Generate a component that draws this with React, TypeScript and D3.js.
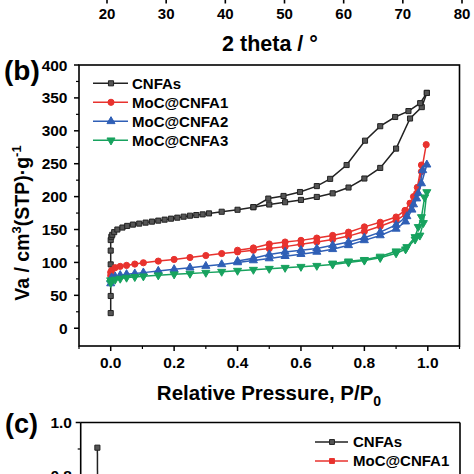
import React from "react";
import * as d3 from "d3";

// ---- Panel (a) remnant: x axis ticks ----
const thetaTicks = [20, 30, 40, 50, 60, 70, 80];

// ---- Panel (b) data: N2 isotherms ----
const seriesNames = ["CNFAs", "MoC@CNFA1", "MoC@CNFA2", "MoC@CNFA3"];
const seriesColors = ["#222222", "#e8322e", "#2f5fb6", "#17a25e"];

const cnfaAdsP = [0, 0, 0, 0, 0, 0.002, 0.005, 0.011, 0.021, 0.037, 0.052, 0.07, 0.09, 0.11, 0.13, 0.15, 0.17, 0.19, 0.21, 0.23, 0.25, 0.27, 0.29, 0.31, 0.35, 0.4, 0.45, 0.5, 0.55, 0.6, 0.65, 0.7, 0.75, 0.8, 0.85, 0.9, 0.944, 0.981, 0.997];
const cnfaAdsV = [23, 49, 97, 118, 134, 139, 142, 146, 150, 153, 155.5, 157.5, 159, 160.5, 162, 163.5, 165, 166.5, 168, 169.5, 171, 172, 173, 174.5, 177, 180, 184, 188, 191.5, 195, 199.5, 205, 213.8, 227.5, 243.6, 273, 318.7, 336, 357.6];
const cnfaDesP = [0.997, 0.976, 0.939, 0.897, 0.85, 0.802, 0.744, 0.692, 0.65, 0.597, 0.545, 0.497, 0.45];
const cnfaDesV = [357.6, 342, 330, 321, 307, 285, 248, 227, 216, 207, 201, 197, 184];

const moc1AdsP = [0, 0, 0.003, 0.014, 0.03, 0.05, 0.076, 0.103, 0.15, 0.2, 0.25, 0.3, 0.35, 0.4, 0.45, 0.5, 0.55, 0.6, 0.65, 0.7, 0.75, 0.8, 0.85, 0.9, 0.93, 0.95, 0.965, 0.98, 0.995];
const moc1AdsV = [80, 85, 88, 92, 94, 95.5, 97.5, 99.5, 102, 104.5, 107.5, 110.5, 113.5, 116, 118.5, 121, 124, 127.5, 131, 135, 140, 147, 155, 164, 173, 188, 205, 238, 279];
const moc1DesP = [0.98, 0.967, 0.955, 0.944, 0.928, 0.9, 0.85, 0.8, 0.75, 0.7, 0.65, 0.6, 0.55, 0.5, 0.45, 0.4];
const moc1DesV = [248, 214, 200, 190, 179, 169, 161, 154, 146, 141, 137, 133.5, 131, 128, 122, 118.5];

const moc2AdsP = [0, 0, 0.003, 0.014, 0.03, 0.05, 0.076, 0.103, 0.15, 0.2, 0.25, 0.3, 0.35, 0.4, 0.45, 0.5, 0.55, 0.6, 0.65, 0.7, 0.75, 0.8, 0.85, 0.9, 0.93, 0.95, 0.965, 0.98, 0.997];
const moc2AdsV = [68, 74, 77, 78.5, 80.5, 82, 83, 84.5, 87, 89.5, 92, 94.5, 97, 100, 103, 106, 109.5, 112.6, 116, 120, 126, 133.5, 141, 151, 162, 180, 197, 220, 248.5];
const moc2DesP = [0.984, 0.97, 0.955, 0.934, 0.9, 0.85, 0.8, 0.75, 0.7, 0.65, 0.6, 0.55, 0.5, 0.45, 0.4];
const moc2DesV = [240, 205, 188, 170, 157, 146, 137.6, 131, 126, 121, 118.5, 116, 112, 106.5, 102];

const moc3AdsP = [0, 0, 0.003, 0.014, 0.03, 0.05, 0.076, 0.103, 0.15, 0.2, 0.25, 0.3, 0.35, 0.4, 0.45, 0.5, 0.55, 0.6, 0.65, 0.7, 0.75, 0.8, 0.85, 0.9, 0.93, 0.96, 0.975, 0.986, 0.997];
const moc3AdsV = [69, 73, 72, 74, 75.5, 77, 78, 79, 80.5, 82, 83, 84.5, 86, 87.5, 89, 90.5, 92, 93.5, 95, 97, 100, 103, 107, 114, 120, 135, 141, 160, 207];
const moc3DesP = [0.99, 0.98, 0.97, 0.96, 0.934, 0.9, 0.85, 0.8, 0.75, 0.7];
const moc3DesV = [199, 169, 154, 138.7, 123.5, 117, 109, 104, 101.7, 98.5];

const bYTicks = [0, 50, 100, 150, 200, 250, 300, 350, 400];
const bYMinor = [25, 75, 125, 175, 225, 275, 325, 375];
const bXTicks = [0, 0.2, 0.4, 0.6, 0.8, 1.0];
const bXMinor = [-0.1, 0.1, 0.3, 0.5, 0.7, 0.9, 1.1];

// ---- Panel (c) remnant ----
const cLegendNames = ["CNFAs", "MoC@CNFA1"];
const cLegendColors = ["#222222", "#e8322e"];
const cPore = [2.2, 2.25];
const cDv = [0.905, 0.5];
const cYTicks = [1.0, 0.8];
const cYMinor = [0.9];

const FONT = "'Liberation Sans', Arial, Helvetica, sans-serif";

const zip = (p: number[], v: number[]) => p.map((x, i) => [x, v[i]] as [number, number]);

const symbols = [d3.symbolSquare, d3.symbolCircle, d3.symbolTriangle, d3.symbolTriangle];
const symRot = [0, 0, 0, 180];
const symSize = [26, 30, 28, 28];

function Marker({ x, y, k }: { x: number; y: number; k: number }) {
  const path = d3.symbol().type(symbols[k]).size(symSize[k])() as string;
  const c = seriesColors[k];
  const fill = k === 0 ? "#555" : c;
  return (
    <path
      d={path}
      transform={`translate(${x},${y}) rotate(${symRot[k]})`}
      fill={fill}
      stroke={c}
      strokeWidth={1}
    />
  );
}

export default function App() {
  const W = 474;
  const H = 474;

  // panel a axis
  const xa = d3.scaleLinear().domain([20, 80]).range([107, 462]);

  // panel b
  const xb = d3.scaleLinear().domain([-0.1, 1.1]).range([79, 459.5]);
  const yb = d3.scaleLinear().domain([-27, 400]).range([346, 65]);
  const line = d3
    .line<[number, number]>()
    .x((d) => xb(d[0]))
    .y((d) => yb(d[1]));

  const series = [
    [zip(cnfaAdsP, cnfaAdsV), zip(cnfaDesP, cnfaDesV)],
    [zip(moc1AdsP, moc1AdsV), zip(moc1DesP, moc1DesV)],
    [zip(moc2AdsP, moc2AdsV), zip(moc2DesP, moc2DesV)],
    [zip(moc3AdsP, moc3AdsV), zip(moc3DesP, moc3DesV)],
  ];

  // panel c
  const xc = d3.scaleLinear().domain([0, 50]).range([80.7, 460]);
  const yc = d3.scaleLinear().domain([0, 1.0]).range([687.5, 422.5]);
  const lineC = d3
    .line<[number, number]>()
    .x((d) => xc(d[0]))
    .y((d) => yc(d[1]));

  const L = xb.range()[0];
  const R = xb.range()[1];
  const T = yb.range()[1];
  const B = yb.range()[0];

  return (
    <svg
      width={W}
      height={H}
      viewBox={`0 0 ${W} ${H}`}
      style={{ position: "absolute", left: 0, top: 0, background: "#fff" }}
      fontFamily={FONT}
      fontWeight="bold"
    >
      <rect x={0} y={0} width={W} height={H} fill="#fff" />
      {/* ===== Panel (a) bottom axis remnant ===== */}
      {thetaTicks.map((t) => (
        <g key={"a" + t}>
          <line x1={xa(t)} x2={xa(t)} y1={-2} y2={3.5} stroke="#000" strokeWidth={1.6} />
          <text x={xa(t)} y={18.5} fontSize={15} textAnchor="middle">
            {t}
          </text>
        </g>
      ))}
      <text x={270} y={51} fontSize={21.5} textAnchor="middle">
        2 theta / °
      </text>

      {/* ===== Panel (b) ===== */}
      <text x={4} y={80} fontSize={28}>
        (b)
      </text>
      <clipPath id="clipb">
        <rect x={L} y={T} width={R - L} height={B - T} />
      </clipPath>
      <g clipPath="url(#clipb)">
        {series.map((branches, k) =>
          branches.map((pts, j) => (
            <g key={`s${k}-${j}`}>
              <path d={line(pts) as string} fill="none" stroke={seriesColors[k]} strokeWidth={1.5} />
              {pts.map((d, i) => (
                <Marker key={i} x={xb(d[0])} y={yb(d[1])} k={k} />
              ))}
            </g>
          ))
        )}
      </g>
      {/* frame */}
      <rect x={L} y={T} width={R - L} height={B - T} fill="none" stroke="#000" strokeWidth={1.6} />
      {/* y ticks */}
      {bYTicks.map((t) => (
        <g key={"by" + t}>
          <line x1={L - 5} x2={L} y1={yb(t)} y2={yb(t)} stroke="#000" strokeWidth={1.5} />
          <text x={67.5} y={yb(t)} dy="0.36em" fontSize={15.5} textAnchor="end">
            {t}
          </text>
        </g>
      ))}
      {bYMinor.map((t) => (
        <line key={"bym" + t} x1={L - 3} x2={L} y1={yb(t)} y2={yb(t)} stroke="#000" strokeWidth={1.2} />
      ))}
      {/* x ticks */}
      {bXTicks.map((t) => (
        <g key={"bx" + t}>
          <line x1={xb(t)} x2={xb(t)} y1={B} y2={B + 5} stroke="#000" strokeWidth={1.5} />
          <text x={xb(t)} y={368} fontSize={15.5} textAnchor="middle">
            {d3.format(".1f")(t)}
          </text>
        </g>
      ))}
      {bXMinor.map((t) => (
        <line key={"bxm" + t} x1={xb(t)} x2={xb(t)} y1={B} y2={B + 3} stroke="#000" strokeWidth={1.2} />
      ))}
      {/* axis titles */}
      <text x={269} y={400} fontSize={20.5} textAnchor="middle">
        Relative Pressure, P/P
        <tspan fontSize={14} dy={6}>
          0
        </tspan>
      </text>
      <text
        transform={`translate(29,${223}) rotate(-90)`}
        fontSize={19.5}
        textAnchor="middle"
      >
        Va / cm
        <tspan fontSize={13} dy={-8}>
          3
        </tspan>
        <tspan dy={8}>(STP)·g</tspan>
        <tspan fontSize={13} dy={-8}>
          -1
        </tspan>
      </text>
      {/* legend b */}
      {seriesNames.map((n, k) => {
        const y = 83.3 + k * 19;
        return (
          <g key={"lb" + n}>
            <line x1={93} x2={128} y1={y} y2={y} stroke={seriesColors[k]} strokeWidth={1.6} />
            <Marker x={111} y={y} k={k} />
            <text x={132} y={y} dy="0.36em" fontSize={15}>
              {n}
            </text>
          </g>
        );
      })}

      {/* ===== Panel (c) remnant ===== */}
      <text x={5} y={433} fontSize={27}>
        (c)
      </text>
      <g>
        <line x1={xc.range()[0]} x2={xc.range()[1]} y1={422.5} y2={422.5} stroke="#000" strokeWidth={1.6} />
        <line x1={xc.range()[0]} x2={xc.range()[0]} y1={422.5} y2={H + 5} stroke="#000" strokeWidth={1.6} />
        <line x1={xc.range()[1]} x2={xc.range()[1]} y1={422.5} y2={H + 5} stroke="#000" strokeWidth={1.6} />
        {cYTicks.map((t) => (
          <g key={"cy" + t}>
            <line x1={xc.range()[0] - 5} x2={xc.range()[0]} y1={yc(t)} y2={yc(t)} stroke="#000" strokeWidth={1.5} />
            <text x={72} y={yc(t)} dy="0.36em" fontSize={15.5} textAnchor="end">
              {d3.format(".1f")(t)}
            </text>
          </g>
        ))}
        {cYMinor.map((t) => (
          <line key={"cym" + t} x1={xc.range()[0] - 3} x2={xc.range()[0]} y1={yc(t)} y2={yc(t)} stroke="#000" strokeWidth={1.2} />
        ))}
        <path d={lineC(zip(cPore, cDv)) as string} fill="none" stroke="#222" strokeWidth={1.5} />
        <Marker x={xc(cPore[0])} y={yc(cDv[0])} k={0} />
        {cLegendNames.map((n, k) => {
          const y = 442 + k * 19;
          return (
            <g key={"lc" + n}>
              <line x1={315} x2={348} y1={y} y2={y} stroke={cLegendColors[k]} strokeWidth={1.6} />
              <path
                d={d3.symbol().type(d3.symbolSquare).size(24)() as string}
                transform={`translate(332,${y})`}
                fill={k === 0 ? "#555" : cLegendColors[k]}
                stroke={cLegendColors[k]}
              />
              <text x={353} y={y} dy="0.36em" fontSize={15}>
                {n}
              </text>
            </g>
          );
        })}
      </g>
    </svg>
  );
}
